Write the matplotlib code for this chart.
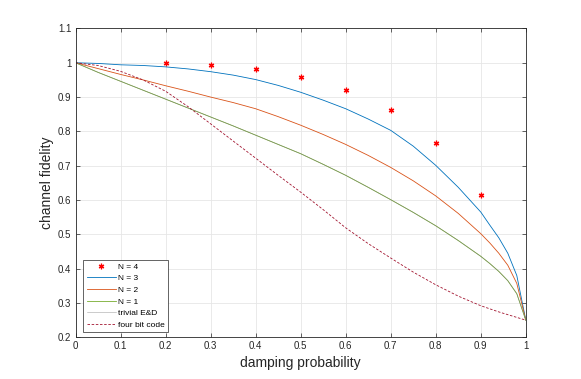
import matplotlib
matplotlib.use("Agg")
import matplotlib.pyplot as plt
import numpy as np

plt.rcParams['font.family'] = ['Liberation Sans', 'DejaVu Sans']

p = [0, 0.05, 0.1, 0.15, 0.2, 0.25, 0.3, 0.35, 0.4, 0.45, 0.5, 0.55, 0.6,
     0.65, 0.7, 0.75, 0.8, 0.85, 0.9, 0.92, 0.94, 0.96, 0.98, 1.0]
n3 = [1.0, 0.998, 0.994, 0.992, 0.988, 0.982, 0.974, 0.964, 0.951, 0.934,
      0.914, 0.891, 0.866, 0.836, 0.803, 0.757, 0.701, 0.637, 0.565, 0.527,
      0.490, 0.445, 0.380, 0.25]
n2 = [1.0, 0.983, 0.966, 0.950, 0.933, 0.917, 0.900, 0.884, 0.866, 0.843,
      0.818, 0.791, 0.762, 0.730, 0.695, 0.656, 0.612, 0.561, 0.502, 0.475,
      0.445, 0.410, 0.357, 0.25]
n1 = [1.0, 0.972, 0.946, 0.920, 0.894, 0.868, 0.842, 0.816, 0.789, 0.762,
      0.735, 0.704, 0.672, 0.637, 0.601, 0.564, 0.525, 0.482, 0.436, 0.415,
      0.392, 0.365, 0.327, 0.25]
trivial = n1
fourbit = [1.0, 0.992, 0.975, 0.950, 0.917, 0.872, 0.822, 0.772, 0.722, 0.672,
           0.623, 0.572, 0.519, 0.473, 0.431, 0.390, 0.353, 0.320, 0.292, 0.283,
           0.274, 0.266, 0.258, 0.25]
p4 = [0.2, 0.3, 0.4, 0.5, 0.6, 0.7, 0.8, 0.9]
n4 = [0.998, 0.993, 0.981, 0.959, 0.922, 0.862, 0.766, 0.615]

xticks = [0, 0.1, 0.2, 0.3, 0.4, 0.5, 0.6, 0.7, 0.8, 0.9, 1]
yticks = [0.2, 0.3, 0.4, 0.5, 0.6, 0.7, 0.8, 0.9, 1, 1.1]

fig = plt.figure(figsize=(5.81, 3.79), dpi=100)
ax = fig.add_axes([0.13, 0.11, 0.775, 0.815])

ax.plot(p4, n4, linestyle='none', marker=(6, 2, 0), markersize=4,
        markeredgewidth=0.9, color='#FF0000', label='N = 4')
ax.plot(p, n3, color='#0072BD', lw=0.6, label='N = 3')
ax.plot(p, n2, color='#D95319', lw=0.6, label='N = 2')
ax.plot(p, n1, color='#77AC30', lw=0.6, label='N = 1')
ax.plot(p, trivial, color='#7f7f7f', lw=0.4, alpha=0.7, label='trivial E&D')
ax.plot(p, fourbit, color='#A2142F', lw=0.6, linestyle=(0, (3, 2)),
        label='four bit code')

ax.set_xlim(0, 1)
ax.set_ylim(0.2, 1.1)
ax.set_xticks(xticks)
ax.set_yticks(yticks)
ax.set_xticklabels(['%g' % v for v in xticks])
ax.set_yticklabels(['%g' % v for v in yticks])
ax.tick_params(direction='in', length=3, width=0.5, labelsize=7,
               colors='#262626', top=True, right=True, pad=3)
ax.grid(True, color='#e6e6e6', lw=0.6)
ax.set_axisbelow(True)
for s in ax.spines.values():
    s.set_linewidth(0.6)
    s.set_color('#262626')

ax.set_xlabel('damping probability', fontsize=10, color='#262626', labelpad=3)
ax.set_ylabel('channel fidelity', fontsize=10, color='#262626', labelpad=3)

leg = ax.legend(loc='lower left', bbox_to_anchor=(0.017, 0.017), fontsize=6,
                frameon=True, fancybox=False, framealpha=1, edgecolor='#262626',
                handlelength=3.5, handletextpad=0.3, borderpad=0.4,
                labelspacing=0.45, borderaxespad=0)
leg.get_frame().set_linewidth(0.5)

fig.savefig('out.png', dpi=100)
